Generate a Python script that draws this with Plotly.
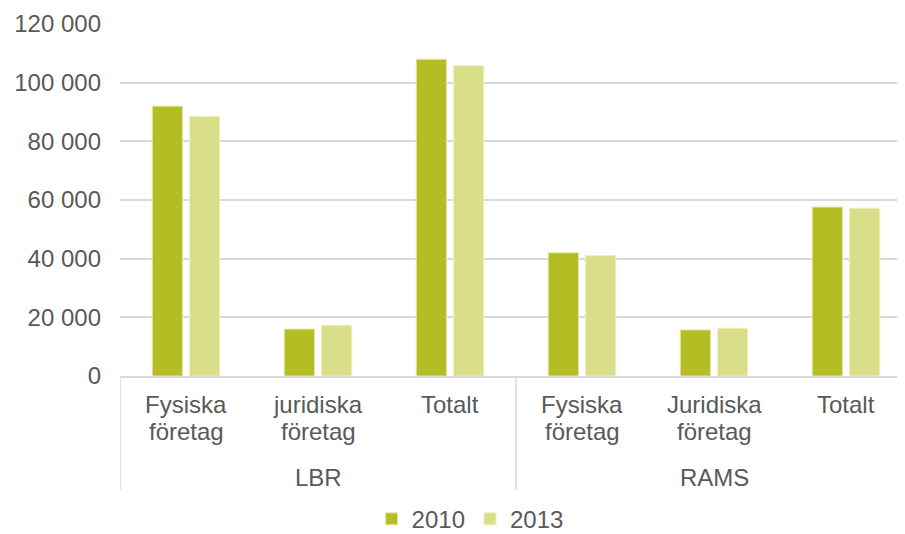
import plotly.graph_objects as go

FONT = "Liberation Sans, Arial, sans-serif"
GREY = "#595959"
LINE = "#D9D9D9"
SIZE = 24

groups = ["LBR", "RAMS"]
group_size = 3
categories = [
    "Fysiska<br>företag",
    "juridiska<br>företag",
    "Totalt",
    "Fysiska<br>företag",
    "Juridiska<br>företag",
    "Totalt",
]
values_2010 = [92000, 16000, 108000, 42000, 15700, 57600]
values_2013 = [88500, 17300, 105800, 41100, 16300, 57200]

tick_vals = [0, 20000, 40000, 60000, 80000, 100000, 120000]
tick_text = ["0", "20 000", "40 000", "60 000", "80 000", "100 000", "120 000"]

positions = list(range(len(categories)))

fig = go.Figure()
fig.add_trace(go.Bar(
    x=positions,
    y=values_2010,
    name="2010",
    marker=dict(color="#B5BD24", line=dict(color="#E4E8A0", width=1)),
))
fig.add_trace(go.Bar(
    x=positions,
    y=values_2013,
    name="2013",
    marker=dict(color="#D9DE88", line=dict(color="#EEF1C2", width=1)),
))

# category labels, one annotation per text line (tighter spacing than <br>)
line_y = [-0.082, -0.159]
for pos, label in zip(positions, categories):
    for k, part in enumerate(label.split("<br>")):
        fig.add_annotation(
            x=pos, y=line_y[k], xref="x", yref="paper",
            text=part, showarrow=False, yanchor="middle",
            font=dict(family=FONT, size=SIZE, color=GREY),
        )

# group labels and dividers under the category labels
for i, name in enumerate(groups):
    start = i * group_size - 0.5
    fig.add_annotation(
        x=start + group_size / 2,
        y=-0.287,
        xref="x",
        yref="paper",
        text=name,
        showarrow=False,
        yanchor="middle",
        font=dict(family=FONT, size=SIZE, color=GREY),
    )
    fig.add_shape(
        type="line",
        x0=start, x1=start,
        y0=0, y1=-0.324,
        xref="x", yref="paper",
        line=dict(color=LINE, width=1.5),
    )

# the page body has an 8px margin, so the figure is a bit smaller and shifted
fig.update_layout(
    width=897,
    height=526,
    margin=dict(l=112, r=0, t=16, b=158),
    paper_bgcolor="white",
    plot_bgcolor="white",
    font=dict(family=FONT, size=SIZE, color=GREY),
    barmode="group",
    bargap=0.435,
    bargroupgap=0.19,
    showlegend=True,
    legend=dict(
        orientation="h",
        x=0.446,
        xanchor="center",
        xref="paper",
        y=0.028,
        yref="container",
        yanchor="middle",
        font=dict(family=FONT, size=SIZE, color=GREY),
        itemwidth=30,
        tracegroupgap=0,
    ),
)
fig.update_xaxes(
    range=[-0.5, len(categories) - 0.553],
    showticklabels=False,
    showline=True,
    linecolor=LINE,
    linewidth=1.5,
    showgrid=False,
    zeroline=False,
    ticks="",
    automargin=False,
)
fig.update_yaxes(
    range=[0, 120000],
    tickvals=tick_vals,
    ticktext=tick_text,
    showgrid=True,
    gridcolor=LINE,
    gridwidth=1.5,
    zeroline=False,
    showline=False,
    ticks="",
    automargin=False,
    ticklabelstandoff=18,
    tickfont=dict(family=FONT, size=SIZE, color=GREY),
)

fig.write_html("out.html")
